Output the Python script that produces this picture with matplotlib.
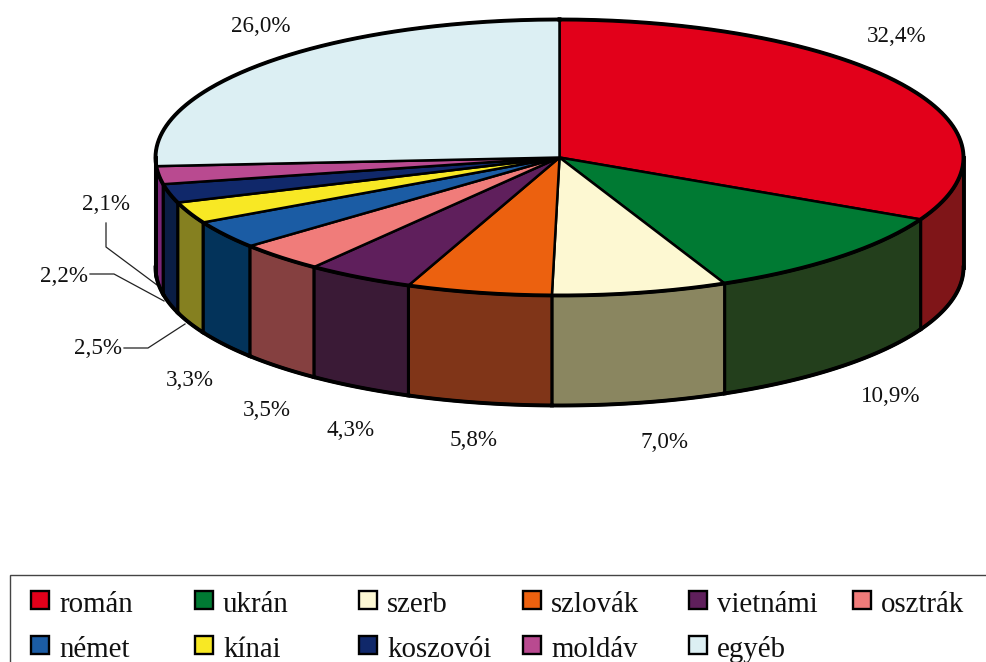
import numpy as np
import matplotlib
matplotlib.use("Agg")
import matplotlib.pyplot as plt
from matplotlib.patches import Polygon, Rectangle

categories = ['román', 'ukrán', 'szerb', 'szlovák', 'vietnámi', 'osztrák',
              'német', 'kínai', 'koszovói', 'moldáv', 'egyéb']
values = [32.4, 10.9, 7.0, 5.8, 4.3, 3.5, 3.3, 2.5, 2.2, 2.1, 26.0]

top_colors = ['#e2001a', '#007a33', '#fdf8d2', '#ec610f', '#5f1f5c', '#f07c7a',
              '#1b5ca4', '#f8e824', '#10286a', '#b94a90', '#dceff3']
side_colors = ['#7f1518', '#233f1c', '#8a8660', '#803518', '#3a1a36', '#854040',
               '#03335a', '#858020', '#0a1d44', '#7a2578', '#6e7a7c']

plt.rcParams['font.family'] = ['Liberation Serif', 'DejaVu Serif']

# pie geometry in pixels
cx, cy = 559.5, 157.5
rx, ry = 404, 138
depth = 110
edge = 1.8
rim = 2.8


def arc(t0, t1):
    t = np.radians(np.linspace(t0, t1, max(int(abs(t1 - t0) * 2), 2)))
    return np.column_stack([cx + rx * np.sin(t), cy - ry * np.cos(t)])


fig = plt.figure(figsize=(9.86, 6.62), dpi=100)
ax = fig.add_axes([0, 0, 1, 1])
ax.set_xlim(0, 986)
ax.set_ylim(662, 0)
ax.axis('off')

angles = np.concatenate([[0], np.cumsum(values)]) / sum(values) * 360

# side wall first, only the front half of the ellipse shows
for i in range(len(values)):
    a0 = max(angles[i], 90)
    a1 = min(angles[i + 1], 270)
    if a1 <= a0:
        continue
    pts = arc(a0, a1)
    low = pts[::-1] + [0, depth]
    ax.add_patch(Polygon(np.vstack([pts, low]), closed=True, facecolor=side_colors[i],
                         edgecolor='black', linewidth=edge + 0.4, joinstyle='round', zorder=2))
    ax.plot(low[:, 0], low[:, 1], color='black', linewidth=rim, zorder=2.5)

for i in range(len(values)):
    pts = np.vstack([[cx, cy], arc(angles[i], angles[i + 1])])
    ax.add_patch(Polygon(pts, closed=True, facecolor=top_colors[i], edgecolor='black',
                         linewidth=edge, joinstyle='round', zorder=3))

# outer rim of the top and the two vertical ends of the wall
rim_pts = arc(0, 360)
ax.plot(rim_pts[:, 0], rim_pts[:, 1], color='black', linewidth=rim, zorder=3.5)
for side in [90, 270]:
    end = arc(side, side + 1)[0]
    ax.plot([end[0], end[0]], [end[1], end[1] + depth], color='black', linewidth=rim, zorder=3.5)

# percent labels
label_x = [897, 891, 664, 474, 351, 267, 190, 98, 64, 106, 261]
label_y = [36, 396, 442, 441, 430, 410, 380, 349, 277, 204, 27]
for v, x, y in zip(values, label_x, label_y):
    ax.text(x, y, f'{v:.1f}%'.replace('.', ','), fontsize=16.6, color='#111111',
            ha='center', va='center', zorder=5)

# leader lines of the three small slices
leaders = [([124, 148, 185], [348, 348, 324]),
           ([90, 114, 164], [274, 274, 301]),
           ([106, 106, 157], [223, 247, 285])]
for lx, ly in leaders:
    ax.plot(lx, ly, color='#222222', linewidth=0.9, zorder=1)

# legend
ax.add_patch(Rectangle((10, 575), 1000, 120, facecolor='white', edgecolor='#444444',
                       linewidth=1.0, zorder=1))
legend_x = [31, 195, 359, 523, 689, 853]
legend_y = [591, 636]
for i, name in enumerate(categories):
    x = legend_x[i % 6]
    y = legend_y[i // 6]
    ax.add_patch(Rectangle((x, y), 18, 18, facecolor=top_colors[i], edgecolor='black',
                           linewidth=1.7, zorder=4))
    ax.text(x + 28, y + 21, name, fontsize=20.8, color='#111111', ha='left',
            va='baseline', zorder=5)

fig.savefig('out.png', dpi=100, facecolor='white')
